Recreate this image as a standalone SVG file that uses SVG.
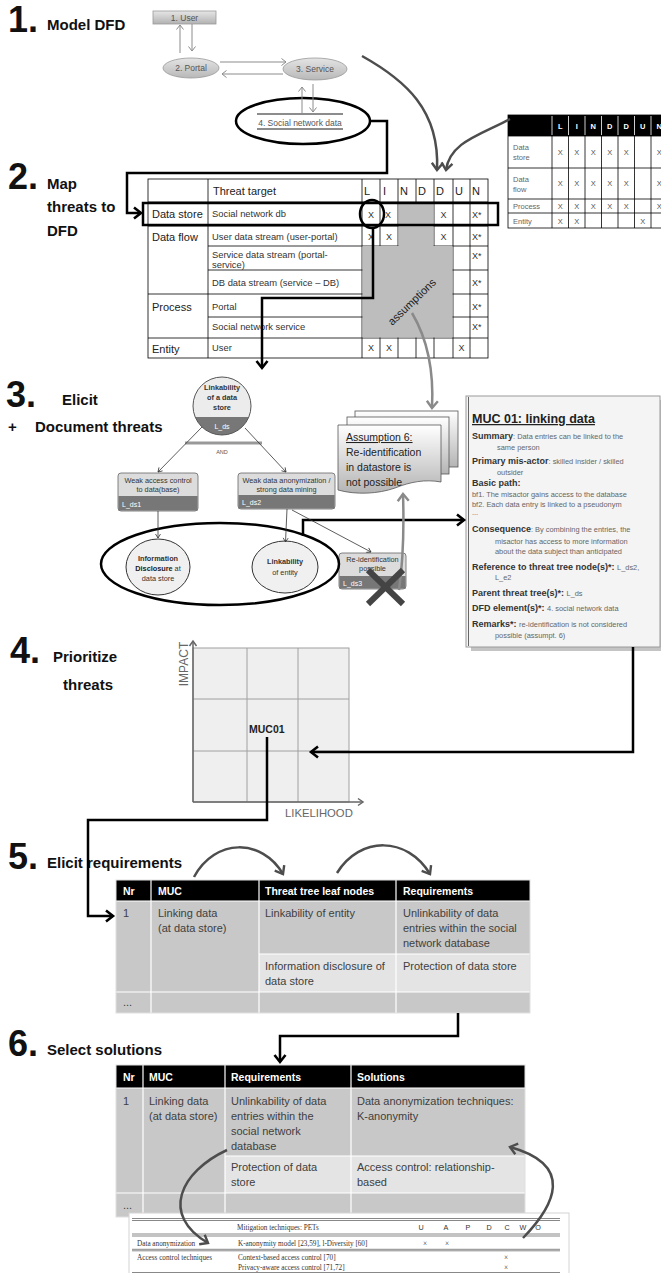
<svg xmlns="http://www.w3.org/2000/svg" width="661" height="1273" viewBox="0 0 661 1273">
<style>
  text { font-family: 'Liberation Sans', Arial, sans-serif; }
  .hnum { font-size: 36px; font-weight: bold; fill: #111; }
  .htxt { font-size: 15px; font-weight: bold; fill: #111; }
  .dfd { font-size: 8.5px; fill: #555; text-anchor: middle; }
  .mx { font-size: 7.5px; fill: #666; }
  .mxc { font-size: 7.5px; fill: #555; text-anchor: middle; }
  .mxh { font-size: 7.5px; fill: #fff; font-weight: bold; text-anchor: middle; }
  .tcat { font-size: 11px; fill: #222; }
  .ttgt { font-size: 9.4px; fill: #333; }
  .tx { font-size: 9px; fill: #333; text-anchor: middle; }
  .txl { font-size: 9px; fill: #333; }
  .node { font-size: 7.3px; fill: #333; text-anchor: middle; }
  .band { font-size: 7px; fill: #fff; }
  .ml { font-size: 9px; font-weight: bold; fill: #333; }
  .mv { font-size: 7.4px; font-weight: normal; fill: #666; }
  .cell { font-size: 11px; fill: #404040; }
  .th { font-size: 10.5px; font-weight: bold; fill: #fff; }
  .pet { font-family: 'Liberation Serif', 'Times New Roman', serif; font-size: 7.2px; fill: #333; }
  .grid { stroke: #000; stroke-width: 0.8; fill: none; }
  .blk { fill: none; stroke: #000; stroke-width: 2.5; }
  .cur { fill: none; stroke: #4d4d4d; stroke-width: 2.5; }
  .cur2 { fill: none; stroke: #8a8a8a; stroke-width: 2.5; }
  .dfl { fill: none; stroke: #8c8c8c; stroke-width: 1; }
  .thin { fill: none; stroke: #333; stroke-width: 0.8; }
</style>
<defs>
  <linearGradient id="gBox" x1="0" y1="0" x2="0" y2="1">
    <stop offset="0" stop-color="#e6e6e6"/><stop offset="1" stop-color="#b2b2b2"/>
  </linearGradient>
  <linearGradient id="gEll" x1="0" y1="0" x2="0" y2="1">
    <stop offset="0" stop-color="#e4e4e4"/><stop offset="1" stop-color="#b8b8b8"/>
  </linearGradient>
  <linearGradient id="gDoc" x1="0" y1="0" x2="0" y2="1">
    <stop offset="0" stop-color="#ffffff"/><stop offset="1" stop-color="#b4b4b4"/>
  </linearGradient>
  <marker id="aBlk" markerUnits="userSpaceOnUse" markerWidth="14" markerHeight="14" refX="11" refY="7" orient="auto">
    <path d="M4,1.5 L11,7 L4,12.5" fill="none" stroke="#000" stroke-width="2.6"/>
  </marker>
  <marker id="aCur" markerUnits="userSpaceOnUse" markerWidth="14" markerHeight="14" refX="11" refY="7" orient="auto">
    <path d="M4,1.5 L11,7 L4,12.5" fill="none" stroke="#4d4d4d" stroke-width="2.4"/>
  </marker>
  <marker id="aCur2" markerUnits="userSpaceOnUse" markerWidth="14" markerHeight="14" refX="11" refY="7" orient="auto">
    <path d="M4,1.5 L11,7 L4,12.5" fill="none" stroke="#8a8a8a" stroke-width="2.4"/>
  </marker>
  <marker id="aDfd" markerUnits="userSpaceOnUse" markerWidth="10" markerHeight="10" refX="8" refY="5" orient="auto">
    <path d="M3.5,1.5 L8,5 L3.5,8.5" fill="none" stroke="#8c8c8c" stroke-width="1"/>
  </marker>
  <marker id="aThin" markerUnits="userSpaceOnUse" markerWidth="8" markerHeight="8" refX="6" refY="4" orient="auto">
    <path d="M2,1.5 L6,4 L2,6.5" fill="none" stroke="#333" stroke-width="0.8"/>
  </marker>
  <marker id="aAxis" markerUnits="userSpaceOnUse" markerWidth="10" markerHeight="10" refX="8" refY="5" orient="auto">
    <path d="M3,1.5 L8,5 L3,8.5" fill="none" stroke="#666" stroke-width="1.5"/>
  </marker>
  <clipPath id="rootClip"><circle cx="222" cy="406" r="29"/></clipPath>
</defs>

<rect width="661" height="1273" fill="#fff"/>

<!-- step headings -->
<g id="headings">
  <text class="hnum" x="8" y="32">1.</text>
  <text class="htxt" x="47" y="30">Model DFD</text>
  <text class="hnum" x="8" y="189">2.</text>
  <text class="htxt" x="47" y="189">Map</text>
  <text class="htxt" x="47" y="212">threats to</text>
  <text class="htxt" x="47" y="236">DFD</text>
  <text class="hnum" x="6" y="407">3.</text>
  <text class="htxt" x="62" y="405">Elicit</text>
  <text class="htxt" x="8" y="432">+</text>
  <text class="htxt" x="35" y="432">Document threats</text>
  <text class="hnum" x="10" y="663">4.</text>
  <text class="htxt" x="53" y="662">Prioritize</text>
  <text class="htxt" x="63" y="690">threats</text>
  <text class="hnum" x="8" y="869">5.</text>
  <text class="htxt" x="47" y="868">Elicit requirements</text>
  <text class="hnum" x="8" y="1056">6.</text>
  <text class="htxt" x="47" y="1055">Select solutions</text>
</g>

<!-- 1. data flow diagram -->
<g id="dfd-user">
  <rect x="153" y="11" width="63" height="13" fill="url(#gBox)" stroke="#999" stroke-width="0.8"/>
  <text class="dfd" x="184.5" y="20.5" font-size="8">1. User</text>
</g>
<g id="dfd-portal">
  <ellipse cx="191" cy="68" rx="28" ry="10" fill="url(#gEll)" stroke="#999" stroke-width="0.8"/>
  <text class="dfd" x="191" y="71">2. Portal</text>
</g>
<g id="dfd-service">
  <ellipse cx="315" cy="69" rx="32" ry="11" fill="url(#gEll)" stroke="#999" stroke-width="0.8"/>
  <text class="dfd" x="315" y="72">3. Service</text>
</g>
<g id="dfd-datastore">
  <line x1="257" y1="114" x2="343" y2="114" stroke="#8c8c8c" stroke-width="2"/>
  <line x1="257" y1="129" x2="343" y2="129" stroke="#8c8c8c" stroke-width="2"/>
  <text class="dfd" x="300" y="125.5" font-size="8">4. Social network data</text>
  <ellipse cx="303" cy="121" rx="67" ry="23" fill="none" stroke="#000" stroke-width="2.5"/>
</g>
<g id="dfd-flows">
  <path class="dfl" d="M180,53 V25" marker-end="url(#aDfd)"/>
  <path class="dfl" d="M192,24 V51" marker-end="url(#aDfd)"/>
  <path class="dfl" d="M220,62 H286" marker-end="url(#aDfd)"/>
  <path class="dfl" d="M283,74 H222" marker-end="url(#aDfd)"/>
  <path class="dfl" d="M313,84 V112" marker-end="url(#aDfd)"/>
  <path class="dfl" d="M302,113 V87" marker-end="url(#aDfd)"/>
</g>

<!-- generic LINDDUN mapping matrix -->
<g id="mapping-matrix">
  <rect x="508" y="115" width="170" height="21" fill="#000"/>
  <g class="grid">
    <rect x="508" y="115" width="170" height="113"/>
    <line x1="508" y1="136" x2="678" y2="136"/>
    <line x1="508" y1="168" x2="678" y2="168"/>
    <line x1="508" y1="199" x2="678" y2="199"/>
    <line x1="508" y1="213" x2="678" y2="213"/>
    <line x1="552" y1="115" x2="552" y2="228"/>
    <line x1="568.5" y1="115" x2="568.5" y2="228"/>
    <line x1="585" y1="115" x2="585" y2="228"/>
    <line x1="601.5" y1="115" x2="601.5" y2="228"/>
    <line x1="618" y1="115" x2="618" y2="228"/>
    <line x1="634.5" y1="115" x2="634.5" y2="228"/>
    <line x1="651" y1="115" x2="651" y2="228"/>
  </g>
  <g stroke="#fff" stroke-width="0.8">
    <line x1="552" y1="116" x2="552" y2="135"/><line x1="568.5" y1="116" x2="568.5" y2="135"/>
    <line x1="585" y1="116" x2="585" y2="135"/><line x1="601.5" y1="116" x2="601.5" y2="135"/>
    <line x1="618" y1="116" x2="618" y2="135"/><line x1="634.5" y1="116" x2="634.5" y2="135"/>
    <line x1="651" y1="116" x2="651" y2="135"/>
  </g>
  <text class="mxh" x="560.3" y="129">L</text>
  <text class="mxh" x="576.8" y="129">I</text>
  <text class="mxh" x="593.3" y="129">N</text>
  <text class="mxh" x="609.8" y="129">D</text>
  <text class="mxh" x="626.3" y="129">D</text>
  <text class="mxh" x="642.8" y="129">U</text>
  <text class="mxh" x="659.3" y="129">N</text>
  <text class="mx" x="513" y="150">Data</text>
  <text class="mx" x="513" y="160">store</text>
  <text class="mx" x="513" y="182">Data</text>
  <text class="mx" x="513" y="192">flow</text>
  <text class="mx" x="513" y="209">Process</text>
  <text class="mx" x="513" y="223.5">Entity</text>
  <g class="mxc">
    <text x="560.3" y="155">X</text><text x="576.8" y="155">X</text><text x="593.3" y="155">X</text><text x="609.8" y="155">X</text><text x="626.3" y="155">X</text><text x="659.3" y="155">X</text>
    <text x="560.3" y="186">X</text><text x="576.8" y="186">X</text><text x="593.3" y="186">X</text><text x="609.8" y="186">X</text><text x="626.3" y="186">X</text><text x="659.3" y="186">X</text>
    <text x="560.3" y="209">X</text><text x="576.8" y="209">X</text><text x="593.3" y="209">X</text><text x="609.8" y="209">X</text><text x="626.3" y="209">X</text><text x="659.3" y="209">X</text>
    <text x="560.3" y="223.5">X</text><text x="576.8" y="223.5">X</text><text x="642.8" y="223.5">X</text>
  </g>
</g>

<!-- 2. threat mapping table -->
<g id="threat-table">
  <g class="grid">
    <rect x="148" y="179" width="340" height="179"/>
    <line x1="148" y1="202" x2="488" y2="202"/>
    <line x1="148" y1="226" x2="488" y2="226"/>
    <line x1="208" y1="246" x2="488" y2="246"/>
    <line x1="208" y1="270" x2="488" y2="270"/>
    <line x1="148" y1="294" x2="488" y2="294"/>
    <line x1="208" y1="317" x2="488" y2="317"/>
    <line x1="148" y1="338" x2="488" y2="338"/>
    <line x1="208" y1="179" x2="208" y2="358"/>
    <line x1="362" y1="179" x2="362" y2="358"/>
    <line x1="380" y1="179" x2="380" y2="358"/>
    <line x1="398" y1="179" x2="398" y2="358"/>
    <line x1="416" y1="179" x2="416" y2="358"/>
    <line x1="434" y1="179" x2="434" y2="358"/>
    <line x1="453" y1="179" x2="453" y2="358"/>
    <line x1="470" y1="179" x2="470" y2="358"/>
  </g>
  <rect x="398.5" y="202.5" width="35" height="44" fill="#bdbdbd"/>
  <rect x="362.5" y="246" width="90" height="91.5" fill="#bdbdbd"/>
  <text x="0" y="5" class="tcat" font-size="15.5" fill="#4a4a4a" text-anchor="middle" transform="translate(411,301) rotate(-44)">assumptions</text>
  <text class="tcat" x="213" y="195">Threat target</text>
  <g class="tcat" font-size="10.5">
    <text x="364" y="195">L</text><text x="383" y="195">I</text><text x="400" y="195">N</text>
    <text x="418" y="195">D</text><text x="436" y="195">D</text><text x="455" y="195">U</text><text x="472" y="195">N</text>
  </g>
  <text class="tcat" x="152" y="218">Data store</text>
  <text class="tcat" x="152" y="241">Data flow</text>
  <text class="tcat" x="152" y="311">Process</text>
  <text class="tcat" x="152" y="353">Entity</text>
  <text class="ttgt" x="212" y="217">Social network db</text>
  <text class="ttgt" x="212" y="240">User data stream (user-portal)</text>
  <text class="ttgt" x="212" y="258">Service data stream (portal-</text>
  <text class="ttgt" x="212" y="268">service)</text>
  <text class="ttgt" x="212" y="286">DB data stream (service – DB)</text>
  <text class="ttgt" x="212" y="310">Portal</text>
  <text class="ttgt" x="212" y="330">Social network service</text>
  <text class="ttgt" x="212" y="351">User</text>
  <text class="tx" x="371" y="217.5">X</text><text class="tx" x="388" y="217.5">X</text><text class="tx" x="443.5" y="217.5">X</text><text class="txl" x="472" y="217.5">X*</text>
  <text class="tx" x="371" y="240">X</text><text class="tx" x="389" y="240">X</text><text class="tx" x="443.5" y="240">X</text><text class="txl" x="472" y="240">X*</text>
  <text class="txl" x="472" y="258.5">X*</text>
  <text class="txl" x="472" y="286">X*</text>
  <text class="txl" x="472" y="310">X*</text>
  <text class="txl" x="472" y="330">X*</text>
  <text class="tx" x="371" y="351">X</text><text class="tx" x="389" y="351">X</text><text class="tx" x="461.5" y="351">X</text>
  <rect x="143" y="203" width="355" height="22" fill="none" stroke="#000" stroke-width="2.5"/>
  <ellipse cx="372" cy="214" rx="12" ry="14" fill="none" stroke="#000" stroke-width="2.5"/>
</g>

<!-- 3. threat tree -->
<g id="tree-root">
  <circle cx="222" cy="406" r="29" fill="#ececec"/>
  <rect x="190" y="417" width="64" height="20" fill="#777" clip-path="url(#rootClip)"/>
  <circle cx="222" cy="406" r="29" fill="none" stroke="#555" stroke-width="1"/>
  <g class="node" font-weight="bold" font-size="7.5" fill="#222">
    <text x="222" y="390">Linkability</text>
    <text x="222" y="400">of a data</text>
    <text x="222" y="410">store</text>
  </g>
  <text class="band" x="222" y="429" text-anchor="middle">L_ds</text>
  <line x1="185" y1="443" x2="262" y2="443" stroke="#999" stroke-width="3"/>
  <text x="222" y="454" font-size="5.5" fill="#555" text-anchor="middle">AND</text>
</g>
<g id="tree-lds1">
  <rect x="118" y="473" width="80" height="38" rx="3" fill="#dcdcdc" stroke="#666" stroke-width="0.8"/>
  <rect x="118.4" y="496" width="79.2" height="14.6" fill="#777"/>
  <text class="node" x="158" y="483">Weak access control</text>
  <text class="node" x="158" y="492">to data(base)</text>
  <text class="band" x="122" y="507">L_ds1</text>
</g>
<g id="tree-lds2">
  <rect x="238" y="473" width="97" height="36" rx="3" fill="#dcdcdc" stroke="#666" stroke-width="0.8"/>
  <rect x="238.4" y="495" width="96.2" height="13.6" fill="#777"/>
  <text class="node" x="286.5" y="482.5">Weak data anonymization /</text>
  <text class="node" x="286.5" y="491.5">strong data mining</text>
  <text class="band" x="242" y="505">L_ds2</text>
</g>
<g id="tree-lds3">
  <rect x="339" y="553" width="67" height="36" rx="3" fill="#dcdcdc" stroke="#666" stroke-width="0.8"/>
  <rect x="339.4" y="576" width="66.2" height="12.6" fill="#777"/>
  <text class="node" x="372.5" y="561.5" font-size="7">Re-identification</text>
  <text class="node" x="372.5" y="571" font-size="7">possible</text>
  <text class="band" x="343" y="586">L_ds3</text>
</g>
<g id="tree-info-disclosure">
  <ellipse cx="158" cy="567" rx="32" ry="28" fill="#f0f0f0" stroke="#333" stroke-width="1"/>
  <text class="node" x="158" y="561" font-size="7.5" font-weight="bold" fill="#222">Information</text>
  <text class="node" x="158" y="571" font-size="7.5"><tspan font-weight="bold" fill="#222">Disclosure</tspan> at</text>
  <text class="node" x="158" y="581" font-size="7.5">data store</text>
</g>
<g id="tree-linkability-entity">
  <ellipse cx="285" cy="567" rx="33" ry="26" fill="#f0f0f0" stroke="#333" stroke-width="1"/>
  <text class="node" x="285" y="564" font-size="8.3" font-weight="bold" fill="#222">Linkability</text>
  <text class="node" x="285" y="575" font-size="8.3">of entity</text>
</g>
<g id="tree-leaf-selection">
  <ellipse cx="220" cy="564" rx="119" ry="41" fill="none" stroke="#000" stroke-width="2.5"/>
</g>

<!-- assumption documents -->
<g id="assumption">
  <rect x="355" y="411" width="103" height="56" fill="url(#gDoc)" stroke="#555" stroke-width="0.8"/>
  <rect x="347" y="417" width="102" height="57" fill="url(#gDoc)" stroke="#555" stroke-width="0.8"/>
  <path d="M338,425 H441 V482 C425,479 410,482 395,488 C378,494 356,495 338,490 Z" fill="url(#gDoc)" stroke="#555" stroke-width="0.8"/>
  <g font-size="10.5" fill="#222">
    <text x="346" y="441" text-decoration="underline">Assumption 6:</text>
    <text x="346" y="456">Re-identification</text>
    <text x="346" y="471">in datastore is</text>
    <text x="346" y="486">not possible</text>
  </g>
</g>

<!-- misuse case description -->
<g id="muc-01">
  <rect x="471" y="400" width="194" height="251" fill="#c4c4c4"/>
  <rect x="466" y="396" width="194" height="251" fill="#f4f4f4" stroke="#9a9a9a" stroke-width="1"/>
  <line x1="468.5" y1="397" x2="468.5" y2="646" stroke="#666" stroke-width="1"/>
  <text x="472" y="423" font-size="12.5" font-weight="bold" fill="#222" text-decoration="underline">MUC 01: linking data</text>
  <text class="ml" x="472" y="439">Summary<tspan class="mv">: Data entries can be linked to the</tspan></text>
  <text class="mv" x="497" y="450">same person</text>
  <text class="ml" x="472" y="464">Primary mis-actor<tspan class="mv">: skilled insider / skilled</tspan></text>
  <text class="mv" x="497" y="475">outsider</text>
  <text class="ml" x="472" y="486">Basic path:</text>
  <text class="mv" x="472" y="497">bf1. The misactor gains access to the database</text>
  <text class="mv" x="472" y="507">bf2. Each data entry is linked to a pseudonym</text>
  <text class="mv" x="472" y="515">...</text>
  <text class="ml" x="472" y="532">Consequence<tspan class="mv">: By combining the  entries, the</tspan></text>
  <text class="mv" x="495" y="543.5">misactor has access to more information</text>
  <text class="mv" x="495" y="553.5">about the data subject than anticipated</text>
  <text class="ml" x="472" y="570">Reference to threat tree node(s)*: <tspan class="mv">L_ds2,</tspan></text>
  <text class="mv" x="495" y="580">L_e2</text>
  <text class="ml" x="472" y="596">Parent threat tree(s)*: <tspan class="mv">L_ds</tspan></text>
  <text class="ml" x="472" y="611">DFD element(s)*: <tspan class="mv">4. social network data</tspan></text>
  <text class="ml" x="472" y="627">Remarks*: <tspan class="mv"> re-identification is not considered</tspan></text>
  <text class="mv" x="495" y="638">possible (assumpt.  6)</text>
</g>

<!-- 4. risk matrix -->
<g id="risk-matrix">
  <rect x="193" y="648" width="156" height="154" fill="#efefef" stroke="#a0a0a0" stroke-width="1"/>
  <g stroke="#a0a0a0" stroke-width="1">
    <line x1="247" y1="648" x2="247" y2="802"/>
    <line x1="298" y1="648" x2="298" y2="802"/>
    <line x1="193" y1="699" x2="349" y2="699"/>
    <line x1="193" y1="751" x2="349" y2="751"/>
  </g>
  <path d="M193,802 V641" stroke="#666" stroke-width="1.5" fill="none" marker-end="url(#aAxis)"/>
  <path d="M193,802 H363" stroke="#666" stroke-width="1.5" fill="none" marker-end="url(#aAxis)"/>
  <text x="0" y="0" font-size="12" fill="#666" text-anchor="middle" transform="translate(188,664) rotate(-90)">IMPACT</text>
  <text x="285" y="817" font-size="11.3" fill="#666">LIKELIHOOD</text>
  <text x="249" y="733" font-size="10.5" font-weight="bold" fill="#222">MUC01</text>
</g>

<!-- 5. requirements table -->
<g id="requirements-table">
  <rect x="116" y="880" width="414" height="21" fill="#000"/>
  <rect x="116" y="901" width="414" height="112" fill="#c8c8c8"/>
  <rect x="259" y="954" width="271" height="38" fill="#e4e4e4"/>
  <g stroke="#fff" stroke-width="1.2">
    <line x1="151" y1="880" x2="151" y2="1013"/>
    <line x1="259" y1="880" x2="259" y2="1013"/>
    <line x1="396" y1="880" x2="396" y2="1013"/>
    <line x1="116" y1="901" x2="530" y2="901"/>
    <line x1="259" y1="954" x2="530" y2="954"/>
    <line x1="116" y1="992" x2="530" y2="992"/>
  </g>
  <rect x="116" y="880" width="414" height="133" fill="none" stroke="#e0e0e0" stroke-width="1"/>
  <text class="th" x="123" y="895">Nr</text>
  <text class="th" x="158" y="895">MUC</text>
  <text class="th" x="265" y="895">Threat tree leaf nodes</text>
  <text class="th" x="403" y="895">Requirements</text>
  <text class="cell" x="123" y="917">1</text>
  <text class="cell" x="158" y="917">Linking data</text>
  <text class="cell" x="158" y="932">(at data store)</text>
  <text class="cell" x="265" y="917">Linkability of entity</text>
  <text class="cell" x="403" y="917">Unlinkability of data</text>
  <text class="cell" x="403" y="932">entries within the social</text>
  <text class="cell" x="403" y="947">network database</text>
  <text class="cell" x="265" y="970">Information disclosure of</text>
  <text class="cell" x="265" y="985">data store</text>
  <text class="cell" x="403" y="970">Protection of data store</text>
  <text class="cell" x="123" y="1006" font-size="8">...</text>
</g>

<!-- 6. solutions table -->
<g id="solutions-table">
  <rect x="116" y="1065" width="409" height="23" fill="#000"/>
  <rect x="116" y="1088" width="409" height="129" fill="#c8c8c8"/>
  <rect x="225" y="1156" width="300" height="37" fill="#e4e4e4"/>
  <g stroke="#fff" stroke-width="1.2">
    <line x1="143" y1="1065" x2="143" y2="1217"/>
    <line x1="225" y1="1065" x2="225" y2="1217"/>
    <line x1="351" y1="1065" x2="351" y2="1217"/>
    <line x1="116" y1="1088" x2="525" y2="1088"/>
    <line x1="225" y1="1156" x2="525" y2="1156"/>
    <line x1="116" y1="1193" x2="525" y2="1193"/>
  </g>
  <rect x="116" y="1065" width="409" height="152" fill="none" stroke="#e0e0e0" stroke-width="1"/>
  <text class="th" x="123" y="1081">Nr</text>
  <text class="th" x="149" y="1081">MUC</text>
  <text class="th" x="231" y="1081">Requirements</text>
  <text class="th" x="357" y="1081">Solutions</text>
  <text class="cell" x="123" y="1105">1</text>
  <text class="cell" x="149" y="1105">Linking data</text>
  <text class="cell" x="149" y="1120">(at data store)</text>
  <text class="cell" x="231" y="1105">Unlinkability of data</text>
  <text class="cell" x="231" y="1120">entries within the</text>
  <text class="cell" x="231" y="1135">social network</text>
  <text class="cell" x="231" y="1150">database</text>
  <text class="cell" x="357" y="1105">Data anonymization techniques:</text>
  <text class="cell" x="357" y="1120">K-anonymity</text>
  <text class="cell" x="231" y="1171">Protection of data</text>
  <text class="cell" x="231" y="1186">store</text>
  <text class="cell" x="357" y="1171">Access control: relationship-</text>
  <text class="cell" x="357" y="1186">based</text>
  <text class="cell" x="123" y="1209" font-size="8">...</text>
</g>

<!-- PET catalogue excerpt -->
<g id="pet-table">
  <rect x="129" y="1213" width="440" height="61" fill="#fff" stroke="#d4d4d4" stroke-width="1"/>
  <g stroke="#555" stroke-width="0.7">
    <line x1="132" y1="1218.5" x2="560" y2="1218.5"/>
    <line x1="132" y1="1220.5" x2="560" y2="1220.5"/>
    <line x1="132" y1="1234" x2="560" y2="1234"/>
    <line x1="132" y1="1236" x2="560" y2="1236"/>
    <line x1="132" y1="1249.3" x2="560" y2="1249.3"/>
    <line x1="132" y1="1250.8" x2="560" y2="1250.8"/>
    <line x1="132" y1="1272.5" x2="560" y2="1272.5"/>
  </g>
  <text class="pet" x="237" y="1230">Mitigation techniques: PETs</text>
  <g class="pet" text-anchor="middle">
    <text x="421" y="1230">U</text><text x="446" y="1230">A</text><text x="468" y="1230">P</text>
    <text x="489" y="1230">D</text><text x="507" y="1230">C</text><text x="523" y="1230">W</text><text x="538" y="1230">O</text>
  </g>
  <text class="pet" x="137" y="1246">Data anonymization</text>
  <text class="pet" x="238" y="1246">K-anonymity model [23,59], l-Diversity [60]</text>
  <text class="pet" x="425" y="1246" text-anchor="middle" fill="#777">×</text>
  <text class="pet" x="447" y="1246" text-anchor="middle" fill="#777">×</text>
  <text class="pet" x="137" y="1260">Access control techniques</text>
  <text class="pet" x="238" y="1260">Context-based access control [70]</text>
  <text class="pet" x="238" y="1270">Privacy-aware access control [71,72]</text>
  <text class="pet" x="506" y="1260" text-anchor="middle" fill="#777">×</text>
  <text class="pet" x="506" y="1270" text-anchor="middle" fill="#777">×</text>
</g>

<!-- connectors -->
<g id="connectors">
  <path class="blk" d="M370,121 H387 V173 H127 V213 H141" marker-end="url(#aBlk)"/>
  <path class="blk" d="M373,228 V298 H262 V368" marker-end="url(#aBlk)"/>
  <path class="blk" d="M303,536 V520 H464" marker-end="url(#aBlk)"/>
  <path class="blk" d="M633,647 V752 H311" marker-end="url(#aBlk)"/>
  <path class="blk" d="M267,737 V820 H88 V916 H113" marker-end="url(#aBlk)"/>
  <path class="blk" d="M458,1013 V1036 H280 V1062" marker-end="url(#aBlk)"/>
  <path class="cur" d="M362,56 C405,80 440,110 437,170" marker-end="url(#aCur)"/>
  <path class="cur" d="M510,119 C480,135 450,142 446,170" marker-end="url(#aCur)"/>
  <path class="cur2" d="M412,313 C428,340 434,370 432,408" marker-end="url(#aCur2)"/>
  <path class="cur2" d="M399,590 C404,555 404,525 403,494" marker-end="url(#aCur2)"/>
  <path class="thin" d="M202,427 L158,472" marker-end="url(#aThin)"/>
  <path class="thin" d="M245,428 L286,472" marker-end="url(#aThin)"/>
  <path class="thin" d="M158,511 V538" marker-end="url(#aThin)"/>
  <path class="thin" d="M287,509 L285.5,542" marker-end="url(#aThin)"/>
  <path class="thin" d="M292,510 L371,552" marker-end="url(#aThin)"/>
  <path class="cur" d="M194,877 C215,838 262,838 283,874" marker-end="url(#aCur)"/>
  <path class="cur" d="M337,873 C360,836 407,836 430,874" marker-end="url(#aCur)"/>
  <path class="cur" d="M227,1150 C180,1172 160,1215 208,1243" marker-end="url(#aCur)"/>
  <path class="cur" d="M523,1238 C555,1205 575,1165 510,1147" marker-end="url(#aCur)"/>
  <g stroke="#444" stroke-width="6">
    <line x1="368" y1="570" x2="403" y2="604"/>
    <line x1="403" y1="570" x2="368" y2="604"/>
  </g>
</g>
</svg>
